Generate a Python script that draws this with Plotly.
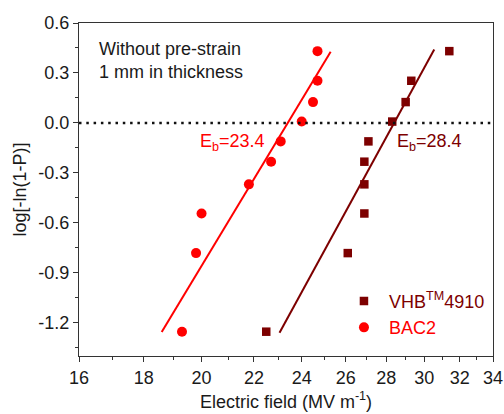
import numpy as np
import plotly.graph_objects as go

# Weibull plot data: breakdown field (MV/m) vs log[-ln(1-P)]
bac2_field = [19.3, 19.8, 20.0, 21.8, 22.7, 23.1, 24.0, 24.5, 24.7, 24.7]
bac2_logp = [-1.254, -0.782, -0.544, -0.369, -0.233, -0.111, 0.008, 0.125, 0.253, 0.431]

vhb_field = [22.5, 26.1, 26.9, 26.9, 26.9, 27.1, 28.3, 29.0, 29.3, 31.4]
vhb_logp = [-1.254, -0.782, -0.544, -0.369, -0.233, -0.111, 0.008, 0.125, 0.253, 0.431]

# Weibull fits: characteristic breakdown field Eb and shape parameter beta
bac2_eb, bac2_beta, bac2_fit_range = 23.4, 12.6, [18.6, 25.3]
vhb_eb, vhb_beta, vhb_fit_range = 28.4, 13.9, [23.05, 30.55]

x_ticks = [16, 18, 20, 22, 24, 26, 28, 30, 32, 34]
x_minor = [17, 19, 21, 23, 25, 27, 29, 31, 33]
y_ticks = [0.6, 0.3, 0.0, -0.3, -0.6, -0.9, -1.2]
y_ticktext = ["0.6", "0.3", "0.0", "-0.3", "-0.6", "-0.9", "-1.2"]

RED = "#ff0000"
MAROON = "#7d0000"
FONT = "Liberation Sans, Arial, sans-serif"


def weibull_line(eb, beta, rng):
    e = np.array(rng, dtype=float)
    return e, beta * np.log10(e / eb)


fig = go.Figure()

ex, ey = weibull_line(bac2_eb, bac2_beta, bac2_fit_range)
fig.add_trace(go.Scatter(x=ex, y=ey, mode="lines", line=dict(color=RED, width=2),
                         showlegend=False, hoverinfo="skip"))
ex, ey = weibull_line(vhb_eb, vhb_beta, vhb_fit_range)
fig.add_trace(go.Scatter(x=ex, y=ey, mode="lines", line=dict(color=MAROON, width=2),
                         showlegend=False, hoverinfo="skip"))

fig.add_trace(go.Scatter(
    x=vhb_field, y=vhb_logp, mode="markers",
    marker=dict(symbol="square", size=8.5, color=MAROON),
    name=f"&nbsp;<span style='color:{MAROON}'>VHB<sup>TM</sup>4910</span>",
))
fig.add_trace(go.Scatter(
    x=bac2_field, y=bac2_logp, mode="markers",
    marker=dict(symbol="circle", size=10, color=RED),
    name=f"&nbsp;<span style='color:{RED}'>BAC2</span>",
))

# reference line at log[-ln(1-P)] = 0
fig.add_shape(type="line", xref="paper", x0=0, x1=1, yref="y", y0=0, y1=0,
              line=dict(color="#111111", width=2.5, dash="2.5px,4.8px"))

fig.add_annotation(text="Without pre-strain<br>1 mm in thickness", xref="paper", yref="paper",
                   x=0.043, y=0.887, xanchor="left", yanchor="middle", align="left",
                   showarrow=False, font=dict(size=18, color="#1a1a1a", family=FONT))
fig.add_annotation(text=f"E<sub>b</sub>={bac2_eb}", xref="paper", yref="paper",
                   x=0.288, y=0.64, xanchor="left", yanchor="middle",
                   showarrow=False, font=dict(size=18, color=RED, family=FONT))
fig.add_annotation(text=f"E<sub>b</sub>={vhb_eb}", xref="paper", yref="paper",
                   x=0.764, y=0.64, xanchor="left", yanchor="middle",
                   showarrow=False, font=dict(size=18, color=MAROON, family=FONT))

axis_common = dict(showline=True, linecolor="#333333", linewidth=1.2, mirror=True,
                   ticks="outside", ticklen=5, tickwidth=1.2, tickcolor="#333333",
                   showgrid=False, zeroline=False,
                   tickfont=dict(size=18, color="#1a1a1a", family=FONT))

fig.update_xaxes(type="log", range=[np.log10(16), np.log10(34)],
                 tickmode="array", tickvals=x_ticks, ticktext=[str(v) for v in x_ticks],
                 minor=dict(tickmode="array", tickvals=x_minor, ticks="outside", ticklen=3,
                            tickwidth=1.2, tickcolor="#333333"),
                 title=dict(text="Electric field (MV m<sup>-1</sup>)", standoff=8,
                            font=dict(size=18, color="#1a1a1a", family=FONT)),
                 **axis_common)
fig.update_yaxes(range=[-1.4, 0.6], tickmode="array", tickvals=y_ticks, ticktext=y_ticktext,
                 minor=dict(dtick=0.15, tick0=0, ticks="outside", ticklen=3,
                            tickwidth=1.2, tickcolor="#333333"),
                 title=dict(text="log[-ln(1-P)]", standoff=6,
                            font=dict(size=18, color="#1a1a1a", family=FONT)),
                 **axis_common)

fig.update_layout(
    width=504, height=414,
    margin=dict(l=79, r=11, t=23, b=58, autoexpand=False),
    paper_bgcolor="white", plot_bgcolor="white",
    font=dict(family=FONT, size=18),
    legend=dict(x=0.64, y=0.22, xanchor="left", yanchor="top",
                bgcolor="rgba(0,0,0,0)", font=dict(size=18, family=FONT),
                itemwidth=30, tracegroupgap=0),
)

fig.write_html("out.html")
